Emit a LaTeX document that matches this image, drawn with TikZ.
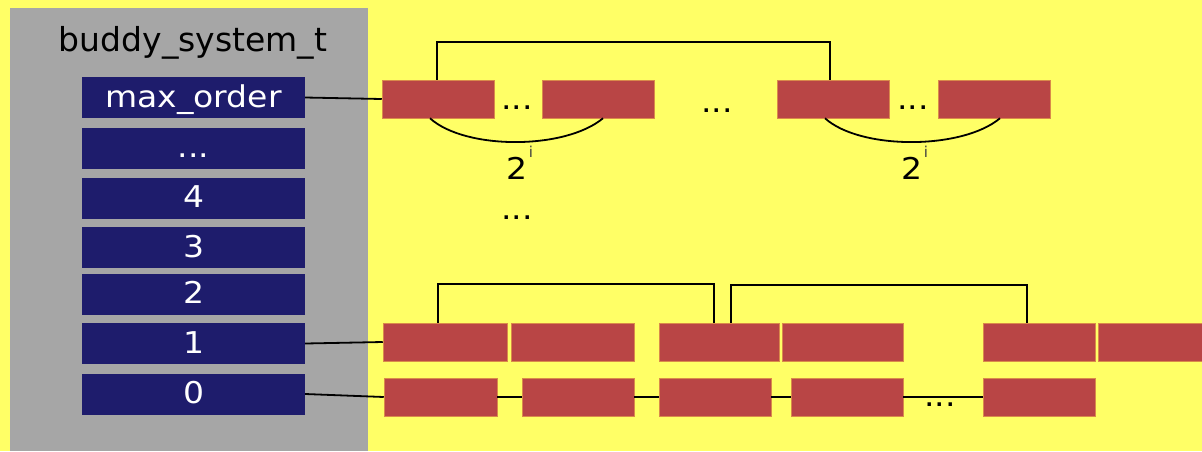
\documentclass[tikz,border=0pt]{standalone}
\usepackage{fontspec}
\setmainfont{DejaVu Sans}
\newfontfamily\widefont[FakeStretch=1.1]{DejaVu Sans}
\definecolor{bg}{HTML}{FFFF66}
\definecolor{panel}{HTML}{A6A6A6}
\definecolor{navy}{HTML}{1E1C6C}
\definecolor{blkfill}{HTML}{B94545}
\definecolor{blkedge}{HTML}{D98A4A}
\begin{document}
\begin{tikzpicture}[x=1pt,y=-1pt,
  slot/.style={fill=navy, text=white, minimum width=223pt, minimum height=41pt, inner sep=0pt,
    text height=23pt, text depth=4pt, font=\widefont\fontsize{30}{30}\selectfont},
  blk/.style={fill=blkfill, draw=blkedge, line width=0.5pt, inner sep=0pt, minimum height=38pt, minimum width=#1},
  conn/.style={draw=black, line width=1.8pt},
  lbl/.style={inner sep=0pt, anchor=base, font=\widefont\fontsize{30}{30}\selectfont},
  expo/.style={inner sep=0pt, anchor=base, text=black!75, font=\fontsize{15}{15}\selectfont},
  dots/.style={inner sep=0pt, anchor=base, font=\widefont\fontsize{30}{30}\selectfont}
]
\useasboundingbox (0,0) rectangle (1202,451);
\clip (0,0) rectangle (1202,451);
\fill[bg] (0,0) rectangle (1202,451);
\fill[panel] (10,8) rectangle (368,451);
\node[inner sep=0pt, font=\fontsize{33}{33}\selectfont, anchor=base] (title) at (193,51.5) {buddy\_system\_t};

\node[slot] (smax) at (193.5,97.5) {max\_order};
\node[slot] (sdots) at (193.5,148) {...};
\node[slot] (s4) at (193.5,198) {4};
\node[slot] (s3) at (193.5,247.5) {3};
\node[slot] (s2) at (193.5,294) {2};
\node[slot] (s1) at (193.5,343.5) {1};
\node[slot] (s0) at (193.5,394) {0};

% top row
\node[blk=112pt] (T1) at (438,99) {};
\node[blk=112pt] (T2) at (598,99) {};
\node[blk=112pt] (T3) at (833,99) {};
\node[blk=112pt] (T4) at (994,99) {};
\node[dots] (td1) at (517,109) {...};
\node[dots] (td2) at (717,112) {...};
\node[dots] (td3) at (913,109) {...};

% order 1 row
\node[blk=124pt] (A1) at (445,342) {};
\node[blk=123pt] (A2) at (572.5,342) {};
\node[blk=120pt] (A3) at (719,342) {};
\node[blk=121pt] (A4) at (842.5,342) {};
\node[blk=112pt] (A5) at (1039,342) {};
\node[blk=116pt] (A6) at (1156,342) {};

% order 0 row
\node[blk=113pt] (B1) at (440.5,397) {};
\node[blk=112pt] (B2) at (578,397) {};
\node[blk=112pt] (B3) at (715,397) {};
\node[blk=112pt] (B4) at (847,397) {};
\node[blk=112pt] (B5) at (1039,397) {};
\node[dots] (bd) at (940,406) {...};

% connectors from slots
\draw[conn] (smax.east) -- (T1.west);
\draw[conn] (s1.east) -- (A1.west);
\draw[conn] (s0.east) -- (B1.west);
\draw[conn] (B1.east) -- (B2.west);
\draw[conn] (B2.east) -- (B3.west);
\draw[conn] (B3.east) -- (B4.west);
\draw[conn] (B4.east) -- (B5.west);

% buddy brackets
\draw[conn] ([xshift=-1pt]T1.north) -- ++(0,-38) -| ([xshift=-3pt]T3.north);
\draw[conn] ([xshift=-7pt]A1.north) -- ++(0,-39) -| ([xshift=-5pt]A3.north);
\draw[conn] ([xshift=12pt]A3.north) -- ++(0,-38) -| ([xshift=-12pt]A5.north);

% size arcs
\draw[conn] ([xshift=-8pt]T1.south) .. controls (465,150) and (565,150) .. ([xshift=5pt]T2.south);
\draw[conn] ([xshift=-8pt]T3.south) .. controls (860,150) and (962,150) .. ([xshift=6pt]T4.south);
\node[lbl] (p1) at (517,179) {2};
\node[expo] (e1) at (531,157) {i};
\node[lbl] (p2) at (912,179) {2};
\node[expo] (e2) at (926,157) {i};
\node[dots] (vd) at (517,219) {...};
\end{tikzpicture}
\end{document}
